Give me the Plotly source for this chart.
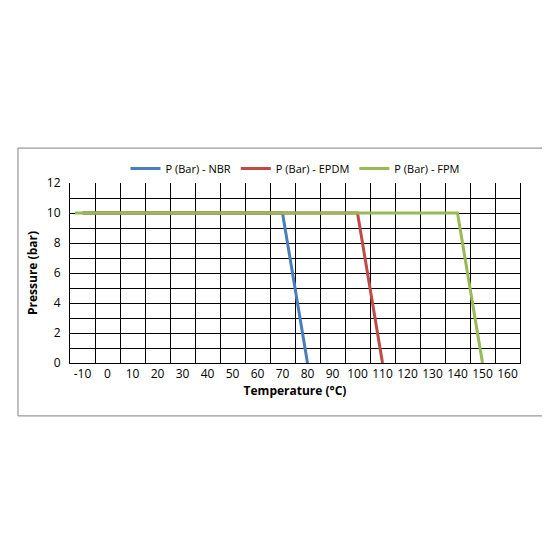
import plotly.graph_objects as go

temps_nbr = [-10, 70, 80]
p_nbr = [10, 10, 0]
temps_epdm = [-10, 100, 110]
p_epdm = [10, 10, 0]
temps_fpm = [-13, 140, 150]
p_fpm = [10, 10, 0]
x_ticks = list(range(-10, 161, 10))
x_labels = [str(v) for v in x_ticks]

fig = go.Figure()
for name, xs, ys, c in [("P (Bar) - NBR", temps_nbr, p_nbr, "#4a7ebb"),
                        ("P (Bar) - EPDM", temps_epdm, p_epdm, "#be4b48"),
                        ("P (Bar) - FPM", temps_fpm, p_fpm, "#98b954")]:
    fig.add_trace(go.Scatter(x=xs, y=ys, mode="lines", name=name,
                             line=dict(color=c, width=3)))
fig.add_trace(go.Scatter(x=[-15], y=[0], xaxis="x2", showlegend=False,
                         mode="markers", marker=dict(opacity=0), hoverinfo="skip"))

fig.update_layout(
    width=550, height=550, paper_bgcolor="white", plot_bgcolor="white",
    font=dict(family="Open Sans", size=12, color="black"),
    margin=dict(l=62, r=38, t=175, b=195, autoexpand=False),
    legend=dict(orientation="h", x=0.5, xanchor="center", y=1.0, yanchor="bottom",
                font=dict(size=11)),
    xaxis=dict(range=[-15, 165], tickvals=x_ticks, ticktext=x_labels, showgrid=False,
               zeroline=False, showline=True, linecolor="black", ticks="", automargin=False,
               title=dict(text="<b>Temperature (°C)</b>", standoff=2, font=dict(size=12))),
    xaxis2=dict(range=[-15, 165], overlaying="x", tick0=-5, dtick=10, showgrid=True,
                gridcolor="black", gridwidth=1, showticklabels=False, zeroline=False,
                side="bottom", automargin=False),
    yaxis=dict(range=[0, 12], dtick=2, showgrid=True, gridcolor="black", automargin=False,
               ticks="outside", ticklen=6, tickcolor="white",
               minor=dict(dtick=1, showgrid=True, gridcolor="black"),
               zeroline=False, showline=True, linecolor="black", mirror=True,
               title=dict(text="<b>Pressure (bar)</b>", standoff=6, font=dict(size=12))),
    shapes=[dict(type="rect", xref="paper", yref="paper", x0=-0.1156, x1=1.062,
                 y0=-0.294, y1=1.194, line=dict(color="#808080", width=1))],
)
fig.write_html("out.html")
